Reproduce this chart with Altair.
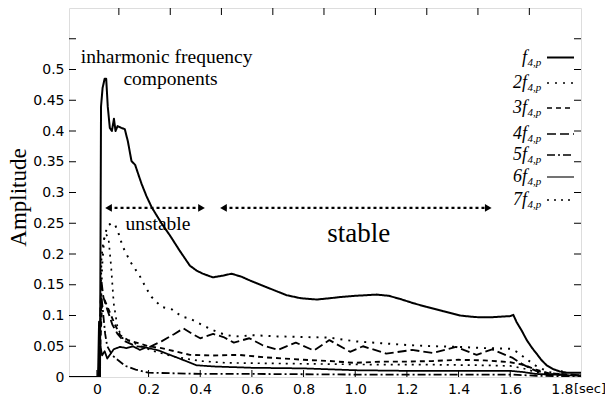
import altair as alt
import pandas as pd

# ---------------- data ----------------
series_names = ["f", "2f", "3f", "4f", "5f", "6f", "7f"]

f1_t = [-0.11, 0.005, 0.012, 0.016, 0.022, 0.03, 0.036, 0.042, 0.05, 0.058, 0.066, 0.072, 0.08, 0.095,
        0.108, 0.12, 0.13, 0.134, 0.148, 0.16, 0.173, 0.192, 0.212, 0.25, 0.283, 0.321, 0.36, 0.386,
        0.41, 0.449, 0.49, 0.521, 0.56, 0.592, 0.657, 0.734, 0.79, 0.851, 0.9, 0.941, 1.0, 1.083,
        1.13, 1.173, 1.225, 1.276, 1.34, 1.405, 1.45, 1.483, 1.52, 1.56, 1.6, 1.612, 1.625, 1.645,
        1.664, 1.685, 1.702, 1.72, 1.741, 1.765, 1.792, 1.82, 1.874]
f1_a = [0.0, 0.0, 0.0, 0.44, 0.47, 0.485, 0.485, 0.44, 0.405, 0.40, 0.42, 0.40, 0.408, 0.405,
        0.403, 0.383, 0.36, 0.351, 0.345, 0.33, 0.314, 0.294, 0.276, 0.25, 0.23, 0.205, 0.181, 0.173,
        0.168, 0.162, 0.165, 0.168, 0.163, 0.157, 0.146, 0.133, 0.128, 0.126, 0.128, 0.13, 0.132, 0.134,
        0.132, 0.127, 0.12, 0.114, 0.107, 0.10, 0.098, 0.097, 0.097, 0.098, 0.099, 0.101, 0.089, 0.075,
        0.06, 0.047, 0.038, 0.028, 0.019, 0.013, 0.009, 0.007, 0.007]

f2_t = [-0.11, 0.008, 0.014, 0.02, 0.028, 0.04, 0.055, 0.07, 0.085, 0.1, 0.13, 0.165, 0.19, 0.212,
        0.25, 0.29, 0.33, 0.36, 0.41, 0.45, 0.5, 0.55, 0.6, 0.7, 0.8, 0.9, 1.0, 1.1, 1.2, 1.3, 1.4,
        1.5, 1.6, 1.63, 1.66, 1.7, 1.75, 1.8, 1.874]
f2_a = [0.0, 0.0, 0.09, 0.18, 0.225, 0.245, 0.25, 0.248, 0.232, 0.212, 0.187, 0.165, 0.145, 0.13,
        0.114, 0.11, 0.098, 0.095, 0.084, 0.076, 0.068, 0.066, 0.068, 0.066, 0.065, 0.064, 0.058, 0.055,
        0.052, 0.05, 0.049, 0.047, 0.046, 0.04, 0.03, 0.018, 0.008, 0.004, 0.002]

f3_t = [-0.11, 0.008, 0.013, 0.02, 0.03, 0.04, 0.05, 0.07, 0.09, 0.12, 0.16, 0.2, 0.25, 0.3, 0.36,
        0.45, 0.55, 0.65, 0.8, 0.9, 1.0, 1.1, 1.2, 1.3, 1.4, 1.5, 1.6, 1.65, 1.7, 1.75, 1.874]
f3_a = [0.0, 0.0, 0.05, 0.12, 0.125, 0.115, 0.105, 0.085, 0.068, 0.06, 0.055, 0.05, 0.047, 0.042,
        0.036, 0.035, 0.036, 0.032, 0.028, 0.026, 0.023, 0.025, 0.025, 0.026, 0.028, 0.027, 0.024,
        0.02, 0.012, 0.006, 0.003]

f4_t = [-0.11, 0.008, 0.012, 0.017, 0.025, 0.04, 0.06, 0.08, 0.1, 0.15, 0.2, 0.25, 0.3, 0.335, 0.37,
        0.4, 0.45, 0.49, 0.53, 0.59, 0.64, 0.7, 0.77, 0.84, 0.9, 0.98, 1.03, 1.12, 1.22, 1.3, 1.39,
        1.47, 1.53, 1.61, 1.65, 1.7, 1.75, 1.874]
f4_a = [0.0, 0.0, 0.08, 0.158, 0.13, 0.11, 0.085, 0.07, 0.06, 0.05, 0.048, 0.058, 0.07, 0.079, 0.07,
        0.063, 0.07, 0.065, 0.056, 0.063, 0.052, 0.044, 0.056, 0.043, 0.06, 0.041, 0.05, 0.038, 0.044,
        0.039, 0.049, 0.036, 0.045, 0.031, 0.02, 0.01, 0.005, 0.003]

f5_t = [-0.11, 0.006, 0.012, 0.018, 0.025, 0.032, 0.04, 0.06, 0.08, 0.11, 0.15, 0.2, 0.3, 0.4, 0.6,
        1.0, 1.6, 1.7, 1.874]
f5_a = [0.0, 0.0, 0.06, 0.13, 0.1, 0.07, 0.05, 0.035, 0.028, 0.018, 0.012, 0.007, 0.006, 0.005,
        0.005, 0.004, 0.004, 0.002, 0.001]

f6_t = [-0.11, 0.004, 0.008, 0.014, 0.02, 0.03, 0.04, 0.05, 0.065, 0.089, 0.115, 0.14, 0.166, 0.19,
        0.21, 0.24, 0.27, 0.32, 0.386, 0.46, 0.6, 0.8, 1.0, 1.2, 1.4, 1.6, 1.65, 1.7, 1.874]
f6_a = [0.0, 0.0, 0.09, 0.05, 0.035, 0.042, 0.03, 0.036, 0.045, 0.049, 0.047, 0.05, 0.044, 0.048,
        0.046, 0.043, 0.038, 0.03, 0.019, 0.017, 0.015, 0.014, 0.011, 0.01, 0.01, 0.01, 0.008, 0.005,
        0.002]

f7_t = [-0.11, 0.008, 0.012, 0.018, 0.025, 0.035, 0.045, 0.055, 0.065, 0.08, 0.1, 0.13, 0.17, 0.22,
        0.3, 0.4, 0.5, 0.7, 0.9, 1.1, 1.3, 1.5, 1.6, 1.65, 1.7, 1.75, 1.874]
f7_a = [0.0, 0.0, 0.06, 0.195, 0.22, 0.233, 0.225, 0.18, 0.12, 0.08, 0.063, 0.058, 0.05, 0.042,
        0.033, 0.026, 0.023, 0.022, 0.021, 0.02, 0.02, 0.019, 0.018, 0.014, 0.008, 0.004, 0.002]

series_t = [f1_t, f2_t, f3_t, f4_t, f5_t, f6_t, f7_t]
series_a = [f1_a, f2_a, f3_a, f4_a, f5_a, f6_a, f7_a]

x_label_values = [0, 0.2, 0.4, 0.6, 0.8, 1.0, 1.2, 1.4, 1.6, 1.8]
y_label_values = [0, 0.05, 0.1, 0.15, 0.2, 0.25, 0.3, 0.35, 0.4, 0.45, 0.5]
y_tick_values = [0.05, 0.1, 0.15, 0.2, 0.25, 0.3, 0.35, 0.4, 0.45, 0.5, 0.55]
top_tick_values = [0.085, 0.284, 0.482, 0.681, 0.879, 1.078, 1.277, 1.475, 1.674]

arrow_x0 = [0.045, 0.49]
arrow_x1 = [0.405, 1.515]
arrow_level = [0.275, 0.275]

note_text = ["inharmonic frequency", "components", "unstable"]
note_x = [0.27, 0.285, 0.236]
note_y = [0.521, 0.485, 0.249]
big_note_text = ["stable"]
big_note_x = [1.014]
big_note_y = [0.233]

legend_sub = "4,p"

# ---------------- build tables ----------------
rows = []
for name, ts, amps in zip(series_names, series_t, series_a):
    for tv, av in zip(ts, amps):
        rows.append({"series": name, "t": tv, "amp": av})
df = pd.DataFrame(rows)

arrow_df = pd.DataFrame({"x0": arrow_x0, "x1": arrow_x1, "lvl": arrow_level})
note_df = pd.DataFrame({"label": note_text, "nx": note_x, "ny": note_y})
big_df = pd.DataFrame({"label": big_note_text, "nx": big_note_x, "ny": big_note_y})
ytick_df = pd.DataFrame({"v": y_tick_values})
xtick_df = pd.DataFrame({"v": x_label_values})
toptick_df = pd.DataFrame({"v": top_tick_values})

# ---------------- styles / layout ----------------
W, H = 512, 369
TL = 7  # inward tick length
xs = alt.Scale(domain=[-0.108, 1.874], nice=False, zero=False)
ys = alt.Scale(domain=[0, 0.6], nice=False, zero=False)

dash_range = [[1, 0], [2, 6], [5, 4], [9, 4], [8, 3, 2, 3], [1, 0], [2, 5]]
width_range = [2.0, 1.7, 1.4, 1.4, 1.4, 1.1, 1.7]

SERIF = "Liberation Serif"

lines = alt.Chart(df).mark_line(color="black", clip=True, strokeJoin="round").encode(
    x=alt.X("t:Q", scale=xs, axis=alt.Axis(
        orient="bottom", values=x_label_values,
        labelExpr="datum.value == 0 ? '0' : format(datum.value, '.1f')",
        ticks=False, labelPadding=5, title="", labelFont="DejaVu Sans", labelFontSize=14,
        labelColor="black", grid=False, domain=False, labelOverlap=False, labelFlush=False)),
    y=alt.Y("amp:Q", scale=ys, axis=alt.Axis(
        orient="left", values=y_label_values, format=".2~f", ticks=False, labelPadding=5,
        labelFont="DejaVu Sans", labelFontSize=14, labelColor="black", grid=False, domain=False,
        labelOverlap=False, labelFlush=False,
        title="Amplitude", titleFont=SERIF, titleFontSize=23, titleFontWeight="normal",
        titleColor="black", titleX=-51, titleY=189, titleAngle=270, titleBaseline="middle",
        titleAlign="center")),
    strokeDash=alt.StrokeDash("series:N", scale=alt.Scale(domain=series_names, range=dash_range), legend=None),
    strokeWidth=alt.StrokeWidth("series:N", scale=alt.Scale(domain=series_names, range=width_range), legend=None),
    detail="series:N",
)

# inward tick marks on all four sides
tick_kw = dict(color="black", thickness=1, size=TL, opacity=1)
left_ticks = alt.Chart(ytick_df).mark_tick(orient="horizontal", **tick_kw).encode(
    y=alt.Y("v:Q", scale=ys, axis=None), x=alt.value(TL / 2))
right_ticks = alt.Chart(ytick_df).mark_tick(orient="horizontal", **tick_kw).encode(
    y=alt.Y("v:Q", scale=ys, axis=None), x=alt.value(W - TL / 2))
bottom_ticks = alt.Chart(xtick_df).mark_tick(orient="vertical", **tick_kw).encode(
    x=alt.X("v:Q", scale=xs, axis=None), y=alt.value(H - TL / 2))
top_ticks = alt.Chart(toptick_df).mark_tick(orient="vertical", **tick_kw).encode(
    x=alt.X("v:Q", scale=xs, axis=None), y=alt.value(TL / 2))

arrows = alt.Chart(arrow_df).mark_rule(color="black", strokeWidth=2.2, strokeDash=[3, 3]).encode(
    x=alt.X("x0:Q", scale=xs, axis=None),
    x2="x1:Q",
    y=alt.Y("lvl:Q", scale=ys, axis=None),
)
heads_left = alt.Chart(arrow_df).mark_point(shape="triangle-left", filled=True, color="black",
                                            size=60, opacity=1).encode(
    x=alt.X("x0:Q", scale=xs, axis=None),
    y=alt.Y("lvl:Q", scale=ys, axis=None),
)
heads_right = alt.Chart(arrow_df).mark_point(shape="triangle-right", filled=True, color="black",
                                             size=60, opacity=1).encode(
    x=alt.X("x1:Q", scale=xs, axis=None),
    y=alt.Y("lvl:Q", scale=ys, axis=None),
)

notes = alt.Chart(note_df).mark_text(font=SERIF, fontSize=19.5, color="black").encode(
    x=alt.X("nx:Q", scale=xs, axis=None),
    y=alt.Y("ny:Q", scale=ys, axis=None),
    text="label:N",
)
big_note = alt.Chart(big_df).mark_text(font=SERIF, fontSize=27, color="black").encode(
    x=alt.X("nx:Q", scale=xs, axis=None),
    y=alt.Y("ny:Q", scale=ys, axis=None),
    text="label:N",
)

sec = alt.Chart(pd.DataFrame({"label": ["[sec]"]})).mark_text(
    font="DejaVu Sans", fontSize=13, color="black", baseline="middle").encode(
    x=alt.value(W + 9), y=alt.value(H + 12), text="label:N")

legend_layers = []
row_y = [49.5, 75, 100, 126, 147, 169, 192]
for i, name in enumerate(series_names):
    one = pd.DataFrame({"label": [name], "sub": [legend_sub]})
    ry = row_y[i]
    rule_kw = dict(color="black", strokeWidth=width_range[i])
    if dash_range[i] != [1, 0]:
        rule_kw["strokeDash"] = dash_range[i]
    legend_layers.append(alt.Chart(one).mark_rule(**rule_kw).encode(
        x=alt.value(478), x2=alt.value(505), y=alt.value(ry)))
    legend_layers.append(alt.Chart(one).mark_text(
        font=SERIF, fontStyle="italic", fontSize=18, color="black",
        align="right", baseline="middle").encode(
        x=alt.value(458), y=alt.value(ry), text="label:N"))
    legend_layers.append(alt.Chart(one).mark_text(
        font=SERIF, fontStyle="italic", fontSize=11, color="black",
        align="left", baseline="middle").encode(
        x=alt.value(458.5), y=alt.value(ry + 5), text="sub:N"))

chart = alt.layer(
    lines, left_ticks, right_ticks, bottom_ticks, top_ticks,
    arrows, heads_left, heads_right, notes, big_note, sec, *legend_layers
).resolve_axis(
    x="independent", y="independent"
).properties(
    width=W, height=H,
    autosize=alt.AutoSizeParams(type="none"),
    padding={"left": 69, "top": 8, "right": 24, "bottom": 24},
).configure_view(stroke="black", strokeWidth=1).configure(background="white")

chart.save("out.html", embed_options={"renderer": "svg", "actions": False})
